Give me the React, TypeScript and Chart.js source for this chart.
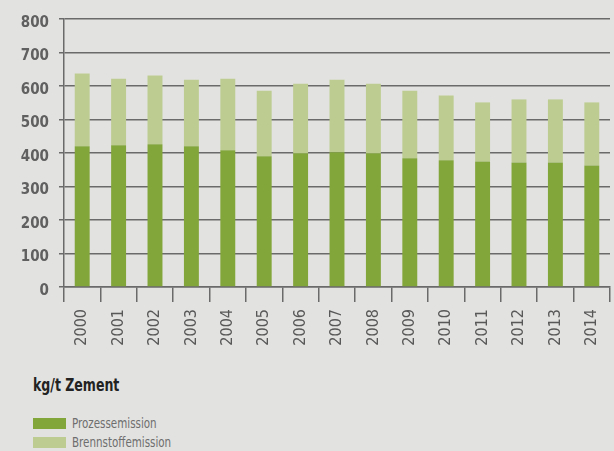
import React, { useEffect, useRef } from "react";
import { Chart, registerables } from "chart.js";

Chart.register(...registerables);

const years = ["2000","2001","2002","2003","2004","2005","2006","2007","2008","2009","2010","2011","2012","2013","2014"];
const prozessemission = [420, 423, 426, 420, 408, 390, 399, 402, 399, 384, 378, 375, 372, 372, 363];
const brennstoffemission = [217, 199, 205, 199, 214, 196, 208, 217, 208, 202, 194, 176, 188, 188, 188];
const yTicks = [0, 100, 200, 300, 400, 500, 600, 700, 800];

const DARK = "#83a63a";
const LIGHT = "#bdcd91";
const GRID = "#6a6a6a";
const BG = "#e2e2e0";
const FONT = "'DejaVu Sans Condensed', 'DejaVu Sans', sans-serif";

export default function App() {
  const ref = useRef<HTMLCanvasElement>(null);
  useEffect(() => {
    if (!ref.current) return;
    const chart = new Chart(ref.current, {
      type: "bar",
      data: {
        labels: years,
        datasets: [
          { label: "Prozessemission", data: prozessemission, backgroundColor: DARK, categoryPercentage: 1, barPercentage: 0.41 },
          { label: "Brennstoffemission", data: brennstoffemission, backgroundColor: LIGHT, categoryPercentage: 1, barPercentage: 0.41 },
        ],
      },
      options: {
        animation: false,
        responsive: false,
        maintainAspectRatio: false,
        layout: { padding: { top: 18, left: 0, right: 0, bottom: 0 } },
        plugins: { legend: { display: false }, tooltip: { enabled: false } },
        scales: {
          x: {
            stacked: true,
            offset: true,
            grid: { offset: true, drawOnChartArea: false, drawTicks: true, tickLength: 15, color: GRID, lineWidth: 1.5 },
            border: { display: true, color: GRID, width: 1.5 },
            ticks: {
              maxRotation: 90,
              minRotation: 90,
              autoSkip: false,
              padding: 7,
              color: "#585858",
              font: { family: FONT, size: 16 },
            },
            afterFit: (s: any) => { s.height = 360 - 287; },
          },
          y: {
            stacked: true,
            min: 0,
            max: 800,
            afterBuildTicks: (s: any) => { s.ticks = yTicks.map((v) => ({ value: v })); },
            grid: { color: GRID, lineWidth: 1.5, tickLength: 5 },
            border: { display: true, color: GRID, width: 1.5 },
            ticks: {
              padding: 10,
              labelOffset: 4,
              color: "#606060",
              font: { family: FONT, size: 15, weight: "bold" },
            },
            afterFit: (s: any) => { s.width = 64; },
          },
        },
      },
    });
    return () => chart.destroy();
  }, []);

  return (
    <div style={{ position: "fixed", left: 0, top: 0, width: 614, height: 451, overflow: "hidden", background: BG }}>
      <canvas ref={ref} width={618} height={360} style={{ position: "absolute", left: 0, top: 0, width: 618, height: 360 }} />
      <div style={{ position: "absolute", left: 33, top: 374, fontFamily: FONT, fontWeight: "bold", fontSize: 17, color: "#222222", lineHeight: "22px", transform: "scaleX(0.82)", transformOrigin: "left center", whiteSpace: "nowrap" }}>kg/t Zement</div>
      <div style={{ position: "absolute", left: 33, top: 414, fontFamily: FONT, fontSize: 14, color: "#6e6e6e", lineHeight: "19px" }}>
        <div style={{ display: "flex", alignItems: "center", height: 19 }}>
          <span style={{ display: "inline-block", width: 33, height: 11, background: DARK, marginRight: 6 }} />
          <span style={{ display: "inline-block", transform: "scaleX(0.82)", transformOrigin: "left center", whiteSpace: "nowrap" }}>Prozessemission</span>
        </div>
        <div style={{ display: "flex", alignItems: "center", height: 19 }}>
          <span style={{ display: "inline-block", width: 33, height: 11, background: LIGHT, marginRight: 6 }} />
          <span style={{ display: "inline-block", transform: "scaleX(0.82)", transformOrigin: "left center", whiteSpace: "nowrap" }}>Brennstoffemission</span>
        </div>
      </div>
    </div>
  );
}
